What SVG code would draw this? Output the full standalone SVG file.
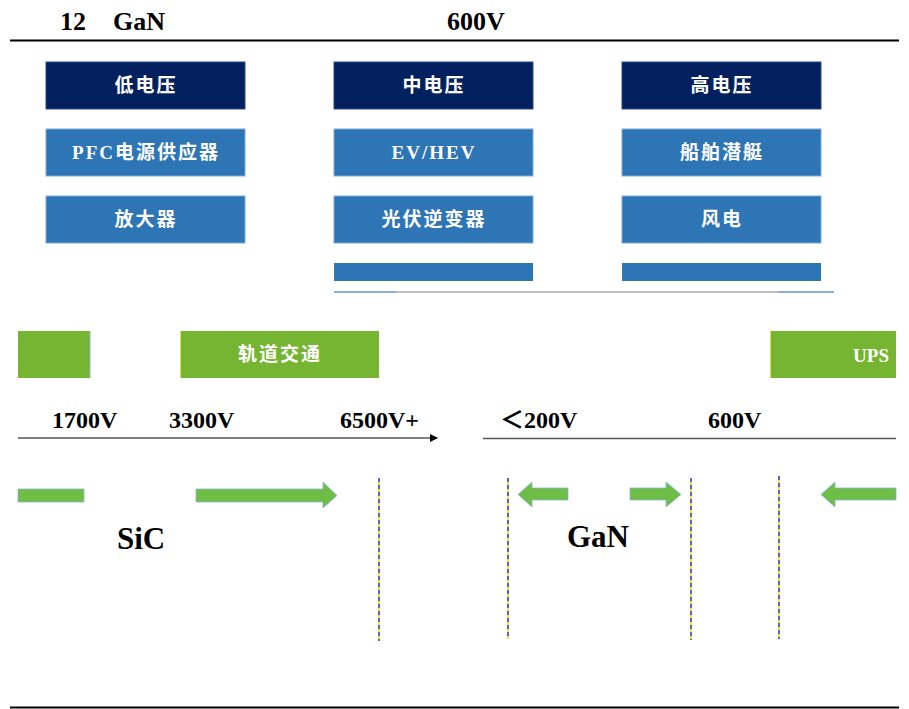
<svg xmlns="http://www.w3.org/2000/svg" width="909" height="709" viewBox="0 0 909 709">
<style>
.t{font-family:"Liberation Serif","Noto Sans CJK SC",serif;font-weight:bold;fill:#000}
.bx{font-family:"Liberation Serif","Noto Sans CJK SC",serif;font-weight:bold;fill:#fff;font-size:19px;letter-spacing:2px;text-anchor:middle}
.dk{fill:#02205E;stroke:#2A4A8A;stroke-width:1}
.lt{fill:#2E75B6;stroke:#7FA9D8;stroke-width:1}
.gr{fill:#76B531}
.ar{fill:#6EBE45;stroke:#8AB4D8;stroke-width:0.8}
.dy{stroke:#E8E000;stroke-width:1.6}
.db{stroke:#3A48D8;stroke-width:1.6;stroke-dasharray:4 3}
</style>
<defs>
<marker id="ah" markerWidth="8" markerHeight="8" refX="7" refY="4" orient="auto" markerUnits="userSpaceOnUse">
<path d="M0,0 L8,4 L0,8 z" fill="#000"/>
</marker>
</defs>

<g id="title">
<text class="t" x="60" y="30" font-size="26">12</text>
<text class="t" x="113" y="30" font-size="26">GaN</text>
<text class="t" x="447" y="30" font-size="26">600V</text>
<line x1="10" y1="40.5" x2="899" y2="40.5" stroke="#000" stroke-width="2"/>
</g>

<g id="low-voltage"><rect class="dk" x="46" y="62" width="199" height="47"/><text class="bx" x="146" y="92">低电压</text></g>
<g id="mid-voltage"><rect class="dk" x="334" y="62" width="199" height="47"/><text class="bx" x="434" y="92">中电压</text></g>
<g id="high-voltage"><rect class="dk" x="622" y="62" width="199" height="47"/><text class="bx" x="722" y="92">高电压</text></g>

<g id="pfc"><rect class="lt" x="46" y="129" width="199" height="47"/><text class="bx" x="146" y="159">PFC电源供应器</text></g>
<g id="ev"><rect class="lt" x="334" y="129" width="199" height="47"/><text class="bx" x="434" y="159">EV/HEV</text></g>
<g id="ship"><rect class="lt" x="622" y="129" width="199" height="47"/><text class="bx" x="722" y="159">船舶潜艇</text></g>

<g id="amp"><rect class="lt" x="46" y="196" width="199" height="47"/><text class="bx" x="146" y="226">放大器</text></g>
<g id="pv"><rect class="lt" x="334" y="196" width="199" height="47"/><text class="bx" x="434" y="226">光伏逆变器</text></g>
<g id="wind"><rect class="lt" x="622" y="196" width="199" height="47"/><text class="bx" x="722" y="226">风电</text></g>

<g id="partial-row">
<rect x="334" y="263" width="199" height="18" fill="#2E75B6"/>
<rect x="622" y="263" width="199" height="18" fill="#2E75B6"/>
<line x1="334" y1="292" x2="834" y2="292" stroke="#A8A8A8" stroke-width="1.5"/>
<line x1="334" y1="292" x2="396" y2="292" stroke="#7FA9D8" stroke-width="1.5"/>
<line x1="778" y1="292" x2="834" y2="292" stroke="#7FA9D8" stroke-width="1.5"/>
</g>

<g id="green-left"><rect class="gr" x="18" y="331" width="72" height="47"/><line x1="90" y1="331" x2="90" y2="378" stroke="#8AB4D8"/></g>
<g id="rail"><rect class="gr" x="180" y="331" width="199" height="47"/><line x1="180.5" y1="331" x2="180.5" y2="378" stroke="#E6E040"/><text class="bx" x="280" y="361">轨道交通</text></g>
<g id="ups"><rect class="gr" x="770" y="331" width="126" height="47"/><line x1="770.5" y1="331" x2="770.5" y2="378" stroke="#E6E040"/><text class="bx" x="889" y="362" font-size="19" style="text-anchor:end;letter-spacing:0">UPS</text></g>

<g id="axis-labels">
<text class="t" x="52" y="428" font-size="24">1700V</text>
<text class="t" x="169" y="428" font-size="24">3300V</text>
<text class="t" x="340" y="428" font-size="24">6500V+</text>
<text class="t" x="500" y="428" font-size="24">＜200V</text>
<text class="t" x="708" y="428" font-size="24">600V</text>
<text class="t" x="117" y="549" font-size="31">SiC</text>
<text class="t" x="567" y="547" font-size="31">GaN</text>
</g>

<g id="connectors">
<line x1="18" y1="438" x2="437" y2="438" stroke="#000" stroke-width="1.2" marker-end="url(#ah)"/>
<line x1="483" y1="438.5" x2="896" y2="438.5" stroke="#555" stroke-width="1.5"/>

<rect class="ar" x="18" y="489" width="66" height="13"/>
<path class="ar" d="M196,489 L323,489 L323,482 L337,495.5 L323,508 L323,502 L196,502 z"/>
<path class="ar" d="M518,494.5 L532,482 L532,488 L568,488 L568,500 L532,500 L532,507 z"/>
<path class="ar" d="M630,488 L666,488 L666,482 L681,494.5 L666,507 L666,500 L630,500 z"/>
<path class="ar" d="M821,494.5 L835,482 L835,488 L896,488 L896,500 L835,500 L835,507 z"/>

<line class="dy" x1="379" y1="478" x2="379" y2="641"/><line class="db" x1="379" y1="478" x2="379" y2="641"/>
<line class="dy" x1="508" y1="478" x2="508" y2="639"/><line class="db" x1="508" y1="478" x2="508" y2="639"/>
<line class="dy" x1="691" y1="478" x2="691" y2="640"/><line class="db" x1="691" y1="478" x2="691" y2="640"/>
<line class="dy" x1="779" y1="476" x2="779" y2="639"/><line class="db" x1="779" y1="476" x2="779" y2="639"/>
</g>

<line id="bottom-rule" x1="10" y1="707.5" x2="899" y2="707.5" stroke="#000" stroke-width="2"/>
</svg>
